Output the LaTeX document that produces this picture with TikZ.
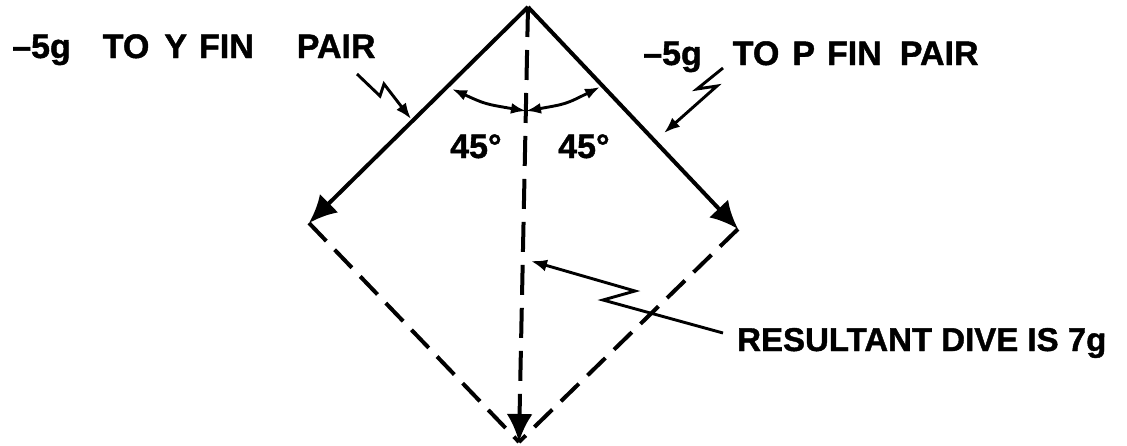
\documentclass[tikz,border=0pt]{standalone}
\usepackage{fontspec}
\setmainfont{Liberation Sans}[BoldFeatures={FakeBold=1.2}]
\usetikzlibrary{arrows.meta}
\begin{document}
\begin{tikzpicture}[x=1pt,y=-1pt,
  lbl/.style={font=\fontsize{34}{34}\selectfont\bfseries, inner sep=0pt, anchor=base west},
  vec/.style={line width=4pt, -{Latex[length=28pt,width=26pt]}},
  comp/.style={line width=4pt, dash pattern=on 25pt off 12pt},
  resv/.style={line width=4pt, dash pattern=on 30pt off 13pt, -{Latex[length=28pt,width=26pt]}},
  lead/.style={line width=2.9pt, line join=miter, -{Latex[length=16pt,width=12pt]}},
  ang/.style={line width=2.9pt, {Latex[length=15pt,width=11pt]}-{Latex[length=15pt,width=11pt]}}]
\useasboundingbox (0,0) rectangle (1127,445);
% vertices
\coordinate (T) at (528,7);
\coordinate (L) at (309,223);
\coordinate (R) at (738,229);
\coordinate (B) at (519,442);
% components (dashed)
\draw[comp] (L) -- (B);
\draw[comp] (R) -- (B);
% resultant
\draw[resv] (T) -- (B);
% fin vectors
\draw[vec] (T) -- (L);
\draw[vec] (T) -- (R);
% angle arcs
\coordinate (A1) at (452,89);
\coordinate (C) at (526,111);
\coordinate (A2) at (600,87);
\draw[ang] (A1) .. controls (485,104) .. (C);
\draw[ang] (C) .. controls (566,104) .. (A2);
% angle labels
\node[lbl] (d1) at (450,158) {45°};
\node[lbl] (d2) at (558,158) {45°};
% texts
\node[lbl] (ty) at (12,58) {–5g\hspace{32pt}TO\hspace{15pt}Y\hspace{12pt}FIN\hspace{43pt}PAIR};
\node[lbl] (tp) at (643,65) {–5g\hspace{31pt}TO\hspace{13pt}P\hspace{12pt}FIN\hspace{18pt}PAIR};
\node[lbl, font=\fontsize{33}{33}\selectfont\bfseries] (tr) at (737,351) {RESULTANT DIVE IS 7g};
% leaders
\coordinate (y0) at (357,74);
\coordinate (y1) at (380,96);
\coordinate (y2) at (384,84);
\coordinate (y3) at (411,119);
\draw[lead] (y0) -- (y1) -- (y2) -- (y3);
\coordinate (p0) at (723,68);
\coordinate (p1) at (697,89);
\coordinate (p2) at (717,86);
\coordinate (p3) at (664,133);
\draw[lead] (p0) -- (p1) -- (p2) -- (p3);
\coordinate (r0) at (723,333);
\coordinate (r1) at (603,300);
\coordinate (r2) at (635,291);
\coordinate (r3) at (531,261);
\draw[lead] (r0) -- (r1) -- (r2) -- (r3);
\end{tikzpicture}
\end{document}
